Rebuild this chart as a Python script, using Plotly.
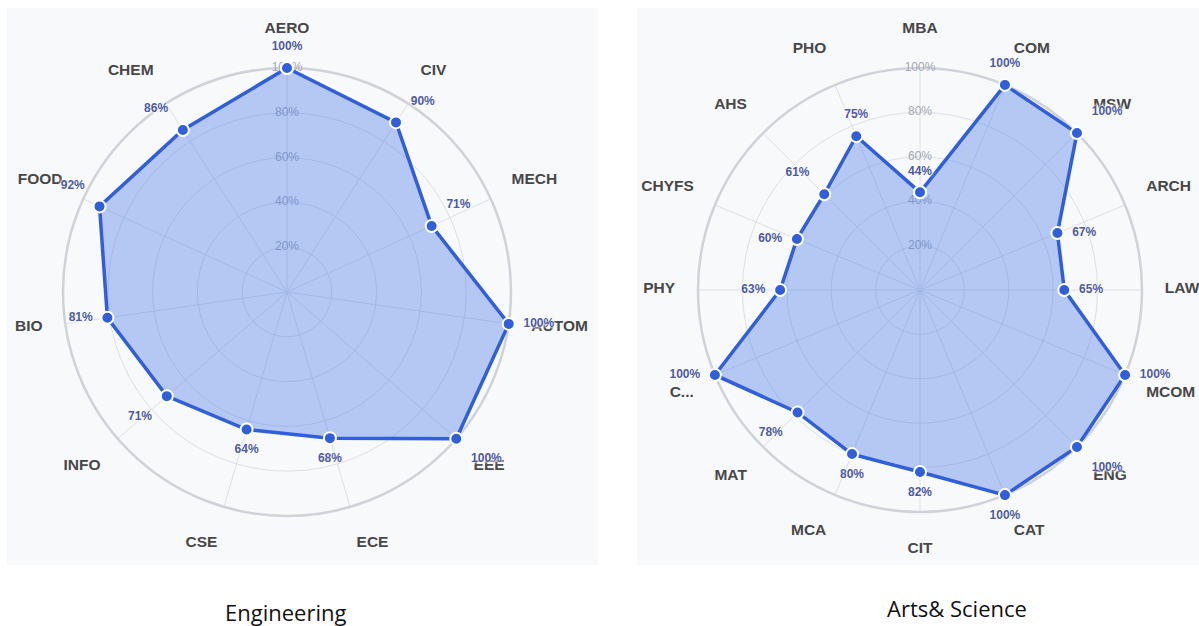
import math
import plotly.graph_objects as go

# Engineering departments (clockwise from top) and their scores
eng_labels = ["AERO", "CIV", "MECH", "AUTOM", "EEE", "ECE", "CSE", "INFO", "BIO", "FOOD", "CHEM"]
eng_values = [100, 90, 71, 100, 100, 68, 64, 71, 81, 92, 86]

# Arts & Science departments (clockwise from top) and their scores
arts_labels = ["MBA", "COM", "MSW", "ARCH", "LAW", "MCOM", "ENG", "CAT", "CIT",
               "MCA", "MAT", "C...", "PHY", "CHYFS", "AHS", "PHO"]
arts_values = [44, 100, 100, 67, 65, 100, 100, 100, 82, 80, 78, 100, 63, 60, 61, 75]

# Radial scale
radial_ticks = [20, 40, 60, 80, 100]
radial_tick_text = [f"{t}%" for t in radial_ticks]

captions = ["Engineering", "Arts& Science"]

LINE = "#2f5fdc"
FILL = "rgba(70,120,235,0.38)"
GRID = "#dcdfe4"
RING = "#cfd2d8"
PANEL = "#f8f9fb"
HALO = "0px 0px 2px white, 0px 0px 3px white, 0px 0px 4px white"
LABEL_SIZE = 15.5

# text placement around a point, indexed by the nearest 45-degree direction
# (clockwise from the top of the chart)
COMPASS = ["top center", "top right", "middle right", "bottom right",
           "bottom center", "bottom left", "middle left", "top left"]

fig = go.Figure()


def add_radar(labels, values, subplot):
    n = len(labels)
    # radial tick labels along the top spoke
    fig.add_trace(go.Scatterpolar(
        r=radial_ticks, theta=[labels[0]] * len(radial_ticks),
        mode="text", text=radial_tick_text,
        textfont=dict(family="Liberation Sans, Arial", size=12, color="#a3a8b3"),
        hoverinfo="skip", showlegend=False, cliponaxis=False, subplot=subplot))
    # filled score polygon
    fig.add_trace(go.Scatterpolar(
        r=values + values[:1], theta=labels + labels[:1],
        mode="lines+markers", fill="toself", fillcolor=FILL,
        line=dict(color=LINE, width=3.5),
        marker=dict(size=12, color=LINE, line=dict(color="white", width=2)),
        showlegend=False, cliponaxis=False, subplot=subplot))
    # value labels pushed outward from each point
    positions = [COMPASS[round(i * 8 / n) % 8] for i in range(n)]
    fig.add_trace(go.Scatterpolar(
        r=values, theta=labels,
        mode="markers+text", text=[f"{v}%" for v in values],
        textposition=positions,
        marker=dict(size=22, color="rgba(0,0,0,0)"),
        textfont=dict(family="Liberation Sans, Arial", size=12, color="#4b59a6",
                      weight="bold", shadow=HALO),
        hoverinfo="skip", showlegend=False, cliponaxis=False, subplot=subplot))


add_radar(eng_labels, eng_values, "polar")
add_radar(arts_labels, arts_values, "polar2")

W, H = 1199, 626


def category_ticktext(labels):
    # labels near the top or bottom of the circle get a short empty line
    # (sized by the small base tick font) that moves them a bit further
    # away from the ring
    n = len(labels)
    out = []
    for i, lab in enumerate(labels):
        c = math.cos(2 * math.pi * i / n)
        txt = f"<span style='font-size:{LABEL_SIZE}px'>{lab}</span>"
        if c > 0.35:
            txt = txt + "<br> "
        elif c < -0.35:
            txt = " <br>" + txt
        out.append(txt)
    return out


def polar_layout(cx, cy, rad, labels):
    return dict(
        domain=dict(x=[(cx - rad) / W, (cx + rad) / W],
                    y=[(H - cy - rad) / H, (H - cy + rad) / H]),
        bgcolor="rgba(0,0,0,0)",
        radialaxis=dict(range=[0, 100], tickvals=radial_ticks, showticklabels=False,
                        showline=False, ticks="", gridcolor=GRID, gridwidth=1.2,
                        layer="below traces"),
        angularaxis=dict(type="category", categoryarray=labels, rotation=90,
                         direction="clockwise", showline=True, linecolor=RING,
                         linewidth=2.5, gridcolor=GRID, gridwidth=1.2,
                         layer="below traces",
                         tickmode="array", tickvals=labels,
                         ticktext=category_ticktext(labels),
                         ticks="outside", ticklen=20, tickcolor="rgba(0,0,0,0)",
                         tickfont=dict(family="Liberation Sans, Arial", size=8,
                                       color="#474747", weight="bold")),
    )


fig.update_layout(
    width=W, height=H,
    margin=dict(l=0, r=0, t=0, b=0),
    paper_bgcolor="white",
    polar=polar_layout(287, 292, 224, eng_labels),
    polar2=polar_layout(920, 290, 222, arts_labels),
    shapes=[
        dict(type="rect", xref="paper", yref="paper", layer="below",
             x0=7 / W, x1=598 / W, y0=(H - 565) / H, y1=(H - 8) / H,
             fillcolor=PANEL, line=dict(width=0)),
        dict(type="rect", xref="paper", yref="paper", layer="below",
             x0=637 / W, x1=1.0, y0=(H - 565) / H, y1=(H - 8) / H,
             fillcolor=PANEL, line=dict(width=0)),
    ],
    annotations=[
        dict(text=captions[0], x=285 / W, y=(H - 612) / H, xref="paper", yref="paper",
             xanchor="center", yanchor="middle", showarrow=False,
             font=dict(family="Open Sans", size=22, color="#111")),
        dict(text=captions[1], x=957 / W, y=(H - 608) / H, xref="paper", yref="paper",
             xanchor="center", yanchor="middle", showarrow=False,
             font=dict(family="Open Sans", size=22, color="#111")),
    ],
)

fig.write_html("out.html")
